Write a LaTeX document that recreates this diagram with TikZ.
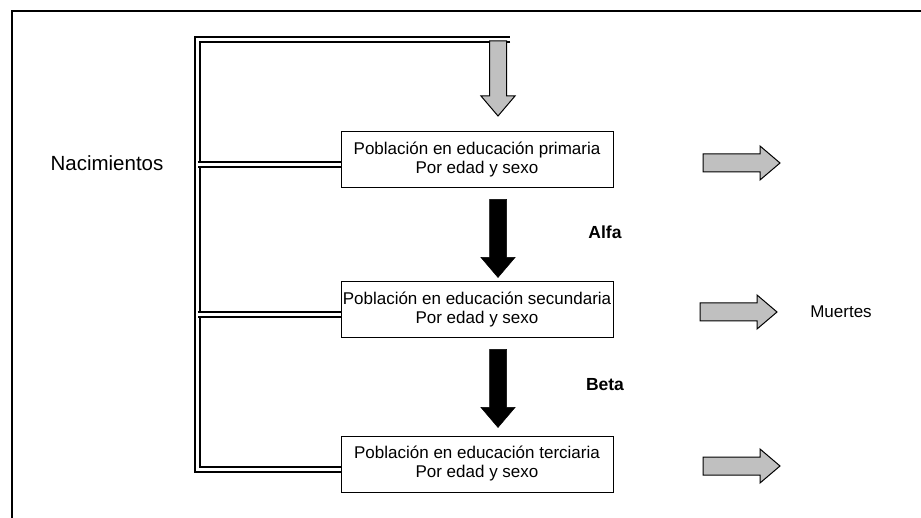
\documentclass[tikz,border=0pt]{standalone}
\usepackage{fontspec}
\setmainfont{Liberation Sans}
\usepackage{xcolor}
\usepackage{tikz}
\usetikzlibrary{calc}

\definecolor{silver}{HTML}{C0C0C0}

\tikzset{
  box/.style={draw, line width=1pt, minimum width=272pt, minimum height=56pt, align=center, inner sep=0pt, font=\fontsize{17}{19}\selectfont},
  lbl/.style={font=\fontsize{17}{19}\selectfont},
  greek/.style={font=\fontsize{17.5}{19}\selectfont\bfseries},
  dbl/.style={double, double distance=3pt, line width=2pt},
  grayarrow/.style={fill=silver, draw=black, line width=1pt, line join=miter},
  blackarrow/.style={fill=black, draw=black, line width=0.5pt}
}

% block arrows: start point, length, style
\newcommand{\blockdown}[3]{%
  \filldraw[#3] (#1) ++(-8.5,0) -- ++(0,#2-20) -- ++(-8.5,0) -- ++(17,20) -- ++(17,-20) -- ++(-8.5,0) -- ++(0,20-#2) -- cycle;}
\newcommand{\blockright}[1]{%
  \filldraw[grayarrow] (#1) ++(0,-9) -- ++(57,0) -- ++(0,-8) -- ++(20,17) -- ++(-20,17) -- ++(0,-8) -- ++(-57,0) -- cycle;}

\begin{document}
\begin{tikzpicture}[x=1pt, y=-1pt]
  \useasboundingbox (0,0) rectangle (921,518);
  % frame
  \draw[line width=2pt] (12,518) -- (12,11) -- (921,11);

  % boxes
  \node[box] (p1) at (477,160) {Población en educación primaria\\Por edad y sexo};
  \node[box] (p2) at (477,310) {Población en educación secundaria\\Por edad y sexo};
  \node[box] (p3) at (477,464) {Población en educación terciaria\\Por edad y sexo};

  % labels
  \node[lbl, font=\fontsize{20.5}{22}\selectfont] (nac) at (107,163) {Nacimientos};
  \node[lbl] (mue) at (841,312) {Muertes};
  \node[greek] (alfa) at (605,232) {Alfa};
  \node[greek] (beta) at (605,385) {Beta};

  % births rail
  \coordinate (rail) at (197.5,40);
  \coordinate (railend) at (510,40);
  \coordinate (j1) at ([yshift=-5pt]p1.west);
  \coordinate (j2) at ([yshift=-5pt]p2.west);
  \coordinate (j3) at ([yshift=-5pt]p3.west);
  \draw[dbl] (railend) -- (rail) |- (j3);
  \draw[dbl] (rail |- j1) -- (j1);
  \draw[dbl] (rail |- j2) -- (j2);

  % flows
  \blockdown{498,41}{75}{grayarrow}
  \blockdown{$(p1.south)+(21,11)$}{78}{blackarrow}
  \blockdown{$(p2.south)+(21,11)$}{78}{blackarrow}
  \blockright{703,163}
  \blockright{700,312}
  \blockright{703,466}
\end{tikzpicture}
\end{document}
